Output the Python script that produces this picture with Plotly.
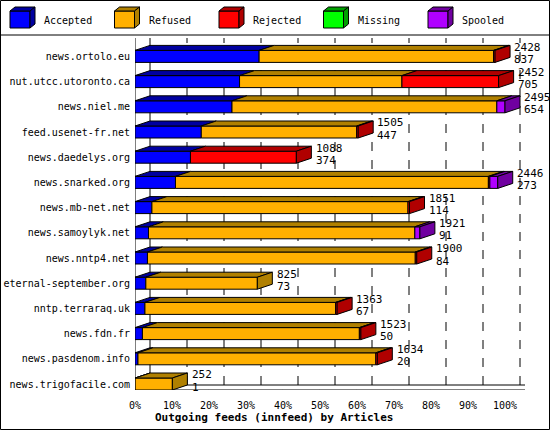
import plotly.graph_objects as go

hosts = ["news.ortolo.eu","nut.utcc.utoronto.ca","news.niel.me","feed.usenet-fr.net","news.daedelys.org",
         "news.snarked.org","news.mb-net.net","news.samoylyk.net","news.nntp4.net","eternal-september.org",
         "nntp.terraraq.uk","news.fdn.fr","news.pasdenom.info","news.trigofacile.com"]
offered  = [2428,2452,2495,1505,1088,2446,1851,1921,1900,825,1363,1523,1634,252]
accepted = [837,705,654,447,374,273,114,91,84,73,67,50,20,1]
refused  = [1581,1095,1786,1048,0,2110,1727,1796,1806,752,1286,1463,1604,251]
rejected = [10,652,0,10,714,10,10,0,10,0,10,10,10,0]
missing  = [0]*14
spooled  = [0,0,55,0,0,53,0,34,0,0,0,0,0,0]

names = ["Accepted","Refused","Rejected","Missing","Spooled"]
fronts = ["#0000ff","#ffb000","#ff0000","#00ff00","#b000ff"]
darks = ["#0000a0","#b08000","#b00000","#00a000","#7000a0"]
series = [accepted, refused, rejected, missing, spooled]

FONT = "DejaVu Sans Mono"
L, R, T, B, W, H = 135, 25, 38, 40, 550, 430
PW, PH = W-L-R, H-T-B
XMAX = PW/3.7
ROW = 25.2
Y0 = -6/ROW
YMAX = Y0 + PH/ROW
DX = 15/3.7
DY = 5/ROW
HH = 6/ROW
scale = max(offered)

def px(x): return (x-L)/PW
def py(y): return (H-B-y)/PH

shapes, annots = [], []
def poly(pts, fill, xref="x", yref="y", lw=1):
    d = "M " + " L ".join(f"{a},{b}" for a, b in pts) + " Z"
    shapes.append(dict(type="path", path=d, fillcolor=fill, line=dict(color="black", width=lw), xref=xref, yref=yref, layer="above"))
def line(x0,y0,x1,y1,dash="solid",xref="x",yref="y"):
    shapes.append(dict(type="line",x0=x0,y0=y0,x1=x1,y1=y1,xref=xref,yref=yref,line=dict(color="black",width=1,dash=dash),layer="below"))

floor_b = Y0 + DY
for k in range(1, 11):
    line(10*k+DX, floor_b, 10*k+DX, YMAX, dash="dash")
line(DX, floor_b, DX, YMAX)
line(100+DX+3, floor_b, 100+DX+3, YMAX)
line(0, Y0, 0, YMAX)
line(0, Y0, 100+DX+7, Y0)
line(DX, floor_b, 100+DX+12, floor_b)
line(100+DX+12, floor_b, 100+DX+3, Y0+2*DY)
line(-13, Y0-0.5, 0, Y0)
for k in range(0, 11):
    line(10*k, Y0, 10*k-1.5, Y0-0.2)

n = len(hosts)
for i, h in enumerate(hosts):
    yc = n-1-i
    y0, y1 = yc-HH, yc+HH
    cum = 0
    last = None
    for s, vals in enumerate(series):
        v = vals[i]
        if v <= 0: continue
        a, b = cum/scale*100, (cum+v)/scale*100
        poly([(a,y0),(b,y0),(b,y1),(a,y1)], fronts[s])
        poly([(a,y1),(b,y1),(b+DX,y1+DY),(a+DX,y1+DY)], darks[s])
        cum += v
        last = s
    e = cum/scale*100
    poly([(e,y0),(e+DX,y0+DY),(e+DX,y1+DY),(e,y1)], darks[last])
    for txt, yy in ((str(offered[i]), yc+0.36), (str(accepted[i]), yc-0.12)):
        annots.append(dict(x=e+DX+0.6, y=yy, text=txt, showarrow=False, xanchor="left", yanchor="middle",
                           font=dict(family=FONT, size=11, color="black")))

shapes.append(dict(type="rect", xref="paper", yref="paper", x0=px(0.5), x1=px(549.5), y0=py(429.5), y1=py(0.5),
                   line=dict(color="black", width=1), fillcolor="rgba(0,0,0,0)", layer="below"))
shapes.append(dict(type="line", xref="paper", yref="paper", x0=px(0), x1=px(550), y0=py(35), y1=py(35),
                   line=dict(color="black", width=1)))
for k, nm in enumerate(names):
    x0 = 10 + 104.5*k
    poly([(px(x0),py(11)),(px(x0+20),py(11)),(px(x0+20),py(28)),(px(x0),py(28))], fronts[k], "paper", "paper")
    poly([(px(x0),py(11)),(px(x0+5),py(7)),(px(x0+25),py(7)),(px(x0+20),py(11))], darks[k], "paper", "paper")
    poly([(px(x0+20),py(11)),(px(x0+25),py(7)),(px(x0+25),py(24)),(px(x0+20),py(28))], darks[k], "paper", "paper")
    annots.append(dict(xref="paper", yref="paper", x=px(x0+32), y=py(20), text=nm, showarrow=False,
                       xanchor="left", yanchor="middle", font=dict(family=FONT, size=10, color="black")))

annots.append(dict(xref="paper", yref="paper", x=px(274), y=py(417), text="<b>Outgoing feeds (innfeed) by Articles</b>",
                   showarrow=False, yanchor="middle", font=dict(family=FONT, size=11, color="black")))

fig = go.Figure(go.Scatter(x=[0], y=[0], mode="markers", marker=dict(opacity=0), hoverinfo="skip", showlegend=False))
fig.update_layout(width=W, height=H, margin=dict(l=L, r=R, t=T, b=B, autoexpand=False), plot_bgcolor="white",
                  paper_bgcolor="white", shapes=shapes, annotations=annots, showlegend=False,
                  font=dict(family=FONT, size=10, color="black"))
fig.update_xaxes(range=[0, XMAX], tickvals=list(range(0,101,10)), ticktext=[f"{v}%" for v in range(0,101,10)],
                 showgrid=False, zeroline=False, showline=False, ticks="", ticklabelstandoff=8, automargin=False,
                 tickfont=dict(size=10))
fig.update_yaxes(range=[Y0, YMAX], tickvals=list(range(n)), ticktext=hosts[::-1], showgrid=False, zeroline=False,
                 showline=False, ticks="", ticklabelstandoff=4, automargin=False, tickfont=dict(size=10))
fig.write_html("out.html", config={"displayModeBar": False})

with open("out.html", encoding="utf-8") as f:
    html = f.read()
html = html.replace("<body>", '<body style="margin:0;padding:0;overflow:hidden">', 1)
with open("out.html", "w", encoding="utf-8") as f:
    f.write(html)
